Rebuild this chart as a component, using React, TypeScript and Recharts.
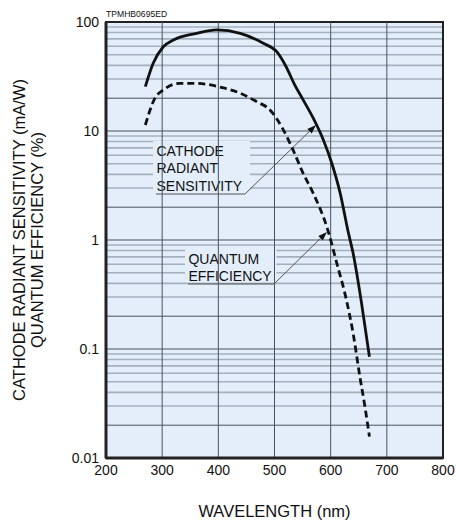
import React from "react";
import {
  LineChart,
  Line,
  XAxis,
  YAxis,
  CartesianGrid,
  ReferenceArea,
  ReferenceLine,
} from "recharts";

const FONT = '"Liberation Sans", Arial, Helvetica, sans-serif';

// Cathode radiant sensitivity (mA/W)
const sensWavelength = [270, 284, 302, 320, 361, 397, 439, 480, 504, 520, 536, 551, 569, 587, 602, 617, 631, 640, 655, 669];
const sensValue = [25.5, 41.8, 59.3, 68.4, 78.7, 84.5, 78.7, 63.8, 53.4, 39.5, 26.5, 19.3, 13.1, 8.27, 5.06, 2.68, 1.2, 0.755, 0.263, 0.085];

// Quantum efficiency (%)
const qeWavelength = [270, 287, 302, 332, 361, 400, 439, 468, 492, 515, 533, 551, 569, 594, 611, 628, 640, 652, 661, 669];
const qeValue = [11.35, 19.95, 23.8, 27.4, 27.4, 25.5, 22.2, 18.6, 15.6, 10.4, 6.7, 4.09, 2.68, 1.28, 0.611, 0.282, 0.139, 0.0557, 0.0296, 0.0157];

const xTicks = [200, 300, 400, 500, 600, 700, 800];
const yTicks = [0.01, 0.1, 1, 10, 100];
const yTickLabels = ["0.01", "0.1", "1", "10", "100"];

const majorGrid = [0.01, 0.02, 0.1, 0.2, 1, 2, 10, 20, 100];
const minorGrid = [0.03, 0.04, 0.05, 0.06, 0.07, 0.08, 0.09, 0.3, 0.4, 0.5, 0.6, 0.7, 0.8, 0.9, 3, 4, 5, 6, 7, 8, 9, 30, 40, 50, 60, 70, 80, 90];

const docCode = "TPMHB0695ED";
const yTitle1 = "CATHODE RADIANT SENSITIVITY (mA/W)";
const yTitle2 = "QUANTUM EFFICIENCY (%)";
const xTitle = "WAVELENGTH (nm)";
const sensLabel = ["CATHODE", "RADIANT", "SENSITIVITY"];
const qeLabel = ["QUANTUM", "EFFICIENCY"];

// annotation anchors (data coordinates)
const sensBox = { x1: 283.7, x2: 456.4, y1: 2.7, y2: 8.1 };
const qeBox = { x1: 340.6, x2: 503.5, y1: 0.41, y2: 0.83 };
const sensLeader = { x0: 289, x1: 447.5, y: 2.64, tipX: 573.9, tipY: 11.35 };
const qeLeader = { x0: 346, x1: 499.1, y: 0.395, tipX: 593.4, tipY: 1.184 };

const sensData = sensWavelength.map((w, i) => ({ w, v: sensValue[i] }));
const qeData = qeWavelength.map((w, i) => ({ w, v: qeValue[i] }));

const BG = "#e3eefa";

const ArrowShape = (props: any) => {
  const { x1, y1, x2, y2 } = props;
  const dx = x2 - x1;
  const dy = y2 - y1;
  const len = Math.sqrt(dx * dx + dy * dy) || 1;
  const ux = dx / len;
  const uy = dy / len;
  const L = 9;
  const W = 3.2;
  const bx = x2 - ux * L;
  const by = y2 - uy * L;
  const pts = `${x2},${y2} ${bx - uy * W},${by + ux * W} ${bx + uy * W},${by - ux * W}`;
  return (
    <g>
      <line x1={x1} y1={y1} x2={bx} y2={by} stroke="#555" strokeWidth={1} />
      <polygon points={pts} fill="#111" />
    </g>
  );
};

const makeBoxLabel = (lines: string[]) => (props: any) => {
  const vb = props.viewBox || {};
  const x = vb.x + 3.5;
  return (
    <g>
      {lines.map((t, i) => (
        <text key={t} x={x} y={vb.y + 15 + i * 17.5} fontSize={14} fontFamily={FONT} fill="#111">
          {t}
        </text>
      ))}
    </g>
  );
};

const YTitle = (props: any) => {
  const vb = props.viewBox || {};
  const cy = vb.y + vb.height / 2;
  const x1 = 25;
  const x2 = 43;
  return (
    <g>
      <text x={x1} y={cy} transform={`rotate(-90, ${x1}, ${cy})`} textAnchor="middle" fontSize={16.5} fontFamily={FONT} fill="#111">
        {yTitle1}
      </text>
      <text x={x2} y={cy} transform={`rotate(-90, ${x2}, ${cy})`} textAnchor="middle" fontSize={16.5} fontFamily={FONT} fill="#111">
        {yTitle2}
      </text>
    </g>
  );
};

const XTitle = (props: any) => {
  const vb = props.viewBox || {};
  return (
    <text x={vb.x + vb.width / 2} y={vb.y + 59} textAnchor="middle" fontSize={16.5} fontFamily={FONT} fill="#111">
      {xTitle}
    </text>
  );
};

const CodeLabel = (props: any) => {
  const vb = props.viewBox || {};
  return (
    <text x={vb.x} y={vb.y - 5.3} fontSize={8.6} fontFamily={FONT} fill="#111">
      {docCode}
    </text>
  );
};

export default function App() {
  return (
    <div style={{ position: "absolute", left: 0, top: 0, width: 456, height: 522, background: "#fff" }}>
      <LineChart width={456} height={522} margin={{ top: 22, right: 13, bottom: 34, left: 46 }}>
        <CartesianGrid
          horizontal={true}
          vertical={false}
          horizontalValues={minorGrid}
          stroke="#a3b0be"
          strokeWidth={1.6}
          fill={BG}
          fillOpacity={1}
        />
        <CartesianGrid horizontal={true} vertical={false} horizontalValues={majorGrid} stroke="#46525e" strokeWidth={1} />
        <XAxis
          type="number"
          dataKey="w"
          domain={[200, 800]}
          ticks={xTicks}
          interval={0}
          allowDataOverflow
          height={30}
          tickSize={0}
          tickMargin={7}
          tickLine={false}
          axisLine={{ stroke: "#222", strokeWidth: 3 }}
          tick={{ fontSize: 14, fill: "#111", fontFamily: FONT }}
          label={XTitle}
        />
        <YAxis
          type="number"
          scale="log"
          domain={[0.01, 100]}
          ticks={yTicks}
          interval={0}
          allowDataOverflow
          width={60}
          tickSize={0}
          tickMargin={7}
          tickLine={false}
          tickFormatter={(v: number) => yTickLabels[yTicks.indexOf(v)] ?? String(v)}
          axisLine={{ stroke: "#222", strokeWidth: 3 }}
          tick={{ fontSize: 14, fill: "#111", fontFamily: FONT }}
          label={YTitle}
        />
        <ReferenceArea x1={sensBox.x1} x2={sensBox.x2} y1={sensBox.y1} y2={sensBox.y2} fill={BG} fillOpacity={1} stroke="none" label={makeBoxLabel(sensLabel)} />
        <ReferenceArea x1={qeBox.x1} x2={qeBox.x2} y1={qeBox.y1} y2={qeBox.y2} fill={BG} fillOpacity={1} stroke="none" label={makeBoxLabel(qeLabel)} />
        {xTicks.slice(1, -1).map((t) => (
          <ReferenceLine key={t} x={t} stroke="#46525e" strokeWidth={1} />
        ))}
        <ReferenceArea x1={200} x2={800} y1={0.01} y2={100} fill="none" stroke="#222" strokeWidth={2} label={CodeLabel} />
        <ReferenceLine
          segment={[
            { x: sensLeader.x0, y: sensLeader.y },
            { x: sensLeader.x1, y: sensLeader.y },
          ]}
          stroke="#555"
          strokeWidth={1}
        />
        <ReferenceLine
          segment={[
            { x: sensLeader.x1, y: sensLeader.y },
            { x: sensLeader.tipX, y: sensLeader.tipY },
          ]}
          shape={ArrowShape}
        />
        <ReferenceLine
          segment={[
            { x: qeLeader.x0, y: qeLeader.y },
            { x: qeLeader.x1, y: qeLeader.y },
          ]}
          stroke="#555"
          strokeWidth={1}
        />
        <ReferenceLine
          segment={[
            { x: qeLeader.x1, y: qeLeader.y },
            { x: qeLeader.tipX, y: qeLeader.tipY },
          ]}
          shape={ArrowShape}
        />
        <Line
          data={sensData}
          dataKey="v"
          type="monotone"
          stroke="#111"
          strokeWidth={2.8}
          dot={false}
          activeDot={false}
          isAnimationActive={false}
        />
        <Line
          data={qeData}
          dataKey="v"
          type="monotone"
          stroke="#111"
          strokeWidth={2.8}
          strokeDasharray="7 4"
          dot={false}
          activeDot={false}
          isAnimationActive={false}
        />
      </LineChart>
    </div>
  );
}
